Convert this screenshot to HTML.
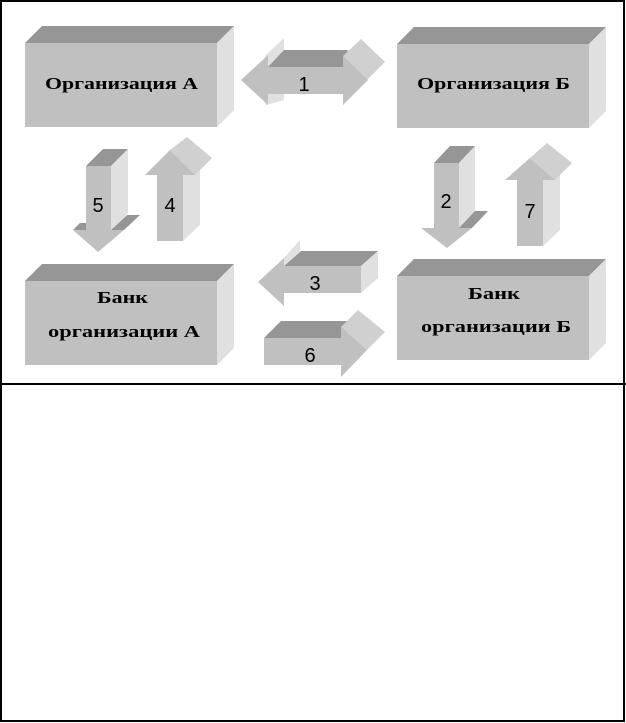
<!DOCTYPE html>
<html><head><meta charset="utf-8"><style>
html,body{margin:0;padding:0;background:#fff}
svg{display:block}
.t{font-family:"Liberation Serif",serif;font-weight:bold;font-size:17px;fill:#000}
.n{font-family:"Liberation Sans",sans-serif;font-size:20px;fill:#000}
</style></head><body>
<svg width="626" height="723" viewBox="0 0 626 723">
<rect x="1" y="1" width="623" height="720" fill="none" stroke="#000" stroke-width="2"/>
<line x1="0" y1="384" x2="626" y2="384" stroke="#000" stroke-width="2"/>
<g>
<polygon points="25,43 217,43 234,26 42,26" fill="#969696"/>
<polygon points="217,43 234,26 234,110 217,127" fill="#e0e0e0"/>
<rect x="25" y="43" width="192" height="84" fill="#c0c0c0"/>
<text class="t" x="45" y="89" textLength="153" lengthAdjust="spacingAndGlyphs">Организация А</text>
</g>
<g>
<polygon points="397,44 589,44 606,27 414,27" fill="#969696"/>
<polygon points="589,44 606,27 606,111 589,128" fill="#e0e0e0"/>
<rect x="397" y="44" width="192" height="84" fill="#c0c0c0"/>
<text class="t" x="417" y="89" textLength="153" lengthAdjust="spacingAndGlyphs">Организация Б</text>
</g>
<g>
<polygon points="25,281 217,281 234,264 42,264" fill="#969696"/>
<polygon points="217,281 234,264 234,348 217,365" fill="#e0e0e0"/>
<rect x="25" y="281" width="192" height="84" fill="#c0c0c0"/>
<text class="t" x="97" y="303" textLength="51" lengthAdjust="spacingAndGlyphs">Банк</text>
<text class="t" x="48" y="337" textLength="152" lengthAdjust="spacingAndGlyphs">организации А</text>
</g>
<g>
<polygon points="397,276 589,276 606,259 414,259" fill="#969696"/>
<polygon points="589,276 606,259 606,343 589,360" fill="#e0e0e0"/>
<rect x="397" y="276" width="192" height="84" fill="#c0c0c0"/>
<text class="t" x="468" y="299" textLength="52" lengthAdjust="spacingAndGlyphs">Банк</text>
<text class="t" x="421" y="332" textLength="150" lengthAdjust="spacingAndGlyphs">организации Б</text>
</g>
<polygon points="266,55 284,38 284,100 266,105" fill="#e0e0e0"/>
<polygon points="268,67 343,67 348,50 284,50" fill="#969696"/>
<polygon points="343,56 361,39 385,62 367,80" fill="#d0d0d0"/>
<polygon points="241,80 268,55 268,67 343,67 343,56 368,80 343,105 343,94 268,94 268,105" fill="#c0c0c0"/>
<text class="n" x="304" y="91" text-anchor="middle">1</text>
<polygon points="86,166 111,166 128,149 103,149" fill="#969696"/>
<polygon points="111,166 128,149 128,213 111,230" fill="#e0e0e0"/>
<polygon points="111,230 124,230 140,215 127,215" fill="#969696"/>
<polygon points="86,230 73,230 80,223 90,223" fill="#969696"/>
<polygon points="86,166 111,166 111,230 124,230 98,252 73,230 86,230" fill="#c0c0c0"/>
<text class="n" x="98" y="212" text-anchor="middle">5</text>
<polygon points="183,175 200,160 200,225 183,241" fill="#e0e0e0"/>
<polygon points="170,150 187,137 212,158 195,175" fill="#d0d0d0"/>
<polygon points="157,175 145,175 170,150 195,175 183,175 183,241 157,241" fill="#c0c0c0"/>
<text class="n" x="170" y="212" text-anchor="middle">4</text>
<polygon points="434,163 459,163 475,146 450,146" fill="#969696"/>
<polygon points="459,163 475,146 475,211 459,228" fill="#e0e0e0"/>
<polygon points="459,228 472,228 488,211 475,211" fill="#969696"/>
<polygon points="434,163 459,163 459,228 472,228 447,248 421,228 434,228" fill="#c0c0c0"/>
<text class="n" x="446" y="208" text-anchor="middle">2</text>
<polygon points="543,180 560,165 560,230 543,246" fill="#e0e0e0"/>
<polygon points="530,158 547,143 572,163 555,180" fill="#d0d0d0"/>
<polygon points="517,180 505,180 530,158 555,180 543,180 543,246 517,246" fill="#c0c0c0"/>
<text class="n" x="530" y="218" text-anchor="middle">7</text>
<polygon points="284,266 361,266 378,251 301,251" fill="#969696"/>
<polygon points="361,266 378,251 378,278 361,293" fill="#e0e0e0"/>
<polygon points="284,266 284,258 300,240 300,251" fill="#e0e0e0"/>
<polygon points="258,282 284,258 284,266 361,266 361,293 284,293 284,306" fill="#c0c0c0"/>
<text class="n" x="315" y="290" text-anchor="middle">3</text>
<polygon points="264,338 341,338 358,321 281,321" fill="#969696"/>
<polygon points="341,327 358,310 385,332 367,350" fill="#d0d0d0"/>
<polygon points="264,338 341,338 341,327 367,350 341,377 341,365 264,365" fill="#c0c0c0"/>
<text class="n" x="310" y="362" text-anchor="middle">6</text>
</svg>
</body></html>
